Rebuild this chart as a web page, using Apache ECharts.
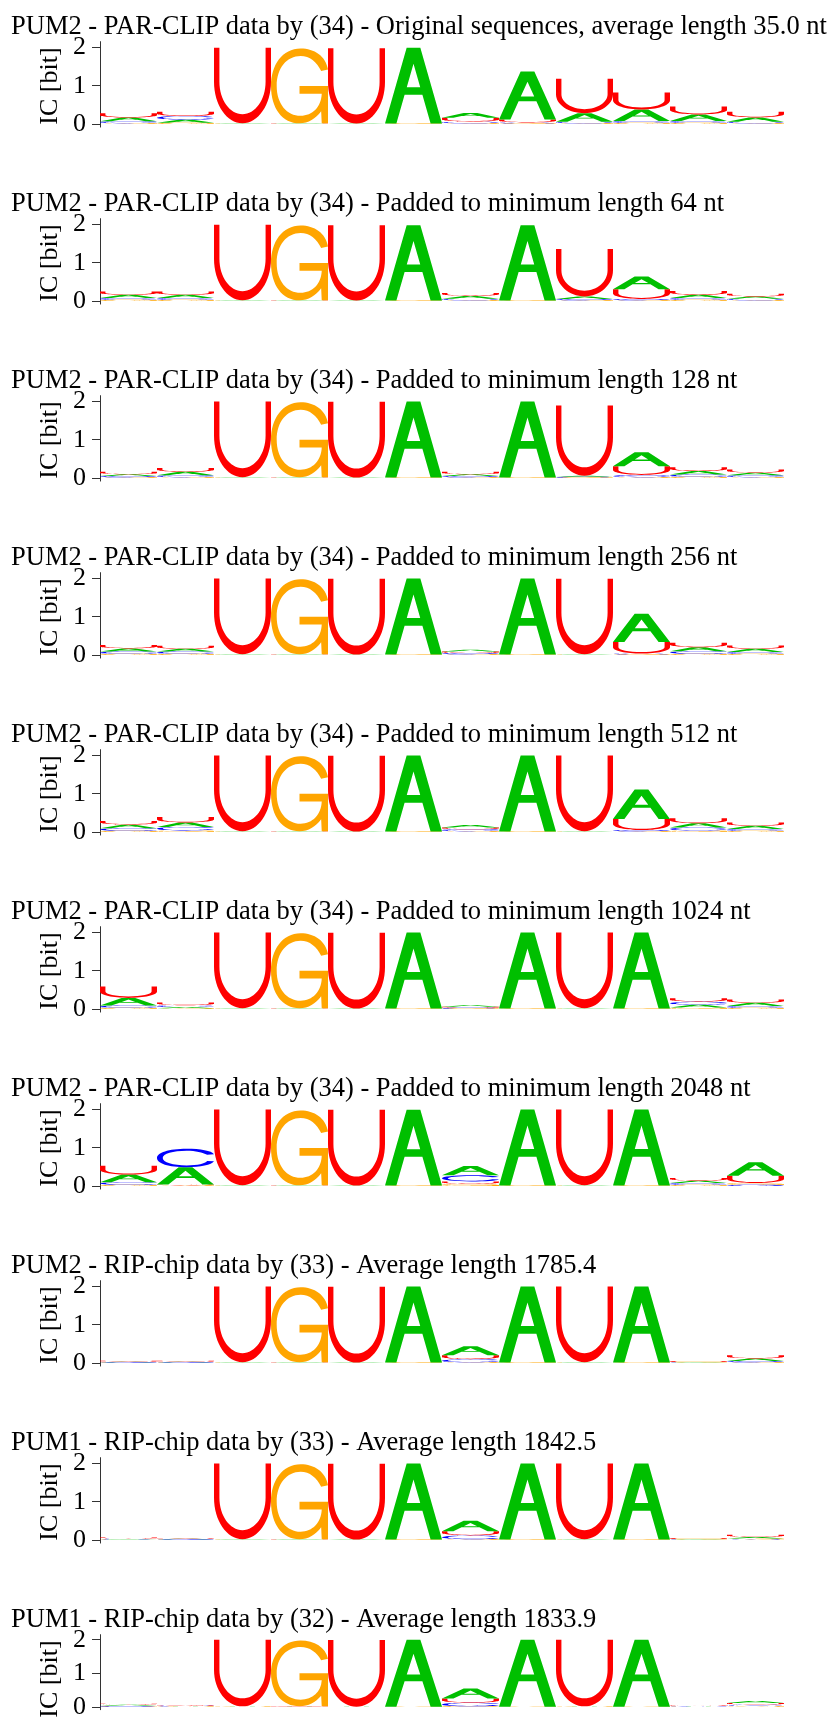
<!DOCTYPE html>
<html><head><meta charset="utf-8">
<script src="https://cdn.jsdelivr.net/npm/echarts@6/dist/echarts.min.js"></script>
<style>html,body{margin:0;padding:0;background:#fff}#c{width:832px;height:1720px}</style>
</head><body><div id="c"></div>
<script>
// letter order in every entry: [A, C, G, U]
const letters = ['A', 'C', 'G', 'U'];
const yTicks = [0, 1, 2];
const yLabel = 'IC [bit]';
const titles = [
  'PUM2 - PAR-CLIP data by (34) - Original sequences, average length 35.0 nt',
  'PUM2 - PAR-CLIP data by (34) - Padded to minimum length 64 nt',
  'PUM2 - PAR-CLIP data by (34) - Padded to minimum length 128 nt',
  'PUM2 - PAR-CLIP data by (34) - Padded to minimum length 256 nt',
  'PUM2 - PAR-CLIP data by (34) - Padded to minimum length 512 nt',
  'PUM2 - PAR-CLIP data by (34) - Padded to minimum length 1024 nt',
  'PUM2 - PAR-CLIP data by (34) - Padded to minimum length 2048 nt',
  'PUM2 - RIP-chip data by (33) - Average length 1785.4',
  'PUM1 - RIP-chip data by (33) - Average length 1842.5',
  'PUM1 - RIP-chip data by (32) - Average length 1833.9'
];
const p1 = [[.10,.05,.02,.11],[.08,.10,.03,.11],[.01,0,.01,1.97],[.01,0,1.95,.01],[.01,0,0,1.97],[1.98,0,.01,0],
            [.13,.04,.02,.10],[1.25,.03,.01,.08],[.22,.04,.02,.90],[.30,.05,.03,.44],[.17,.05,.03,.21],[.11,.04,.02,.15]];
const p2 = [[.08,.05,.03,.09],[.08,.05,.03,.09],[.01,0,.01,1.97],[.01,0,1.95,.01],[.01,0,0,1.97],[1.97,0,.01,0],
            [.07,.04,.02,.08],[1.97,0,.01,0],[.07,.03,.02,1.24],[.33,.03,.02,.26],[.08,.05,.03,.10],[.06,.04,.02,.07]];
const p3 = [[.05,.03,.02,.06],[.09,.05,.02,.10],[.01,0,.01,1.98],[.01,0,1.96,.01],[.01,0,0,1.98],[1.99,0,.01,0],
            [.05,.03,.02,.06],[1.99,0,.01,0],[.03,.02,.01,1.83],[.36,.06,.02,.23],[.09,.06,.03,.10],[.07,.05,.02,.08]];
const p4 = [[.08,.06,.03,.09],[.07,.06,.03,.08],[.01,0,.01,1.98],[.01,0,1.96,.01],[.01,0,0,1.98],[1.99,0,.01,0],
            [.05,.03,.02,.04],[1.99,0,.01,0],[.01,0,.01,1.97],[.74,.03,.01,.30],[.10,.07,.03,.12],[.08,.05,.03,.09]];
const p5 = [[.09,.07,.03,.10],[.12,.09,.04,.14],[.01,0,.01,1.98],[.01,0,1.96,.01],[.01,0,0,1.98],[1.99,0,.01,0],
            [.06,.05,.02,.05],[1.99,0,.01,0],[.01,0,.01,1.98],[.77,.03,.02,.29],[.11,.08,.04,.13],[.08,.05,.03,.09]];
const p6 = [[.20,.06,.03,.30],[.03,.05,.02,.07],[.01,0,.01,1.98],[.01,0,1.96,.01],[.01,0,0,1.98],[1.99,0,.01,0],
            [.04,.02,.01,.03],[1.99,0,.01,0],[.01,0,.01,1.98],[1.99,0,.01,0],[.07,.08,.04,.09],[.08,.05,.03,.09]];
const p7 = [[.20,.07,.03,.23],[.45,.48,.02,.02],[.01,0,.01,1.98],[.01,0,1.95,.01],[.01,0,0,1.98],[1.98,0,.01,0],
            [.24,.16,.05,.07],[1.99,0,.01,0],[.01,0,.01,1.98],[1.99,0,.01,0],[.06,.05,.03,.07],[.35,.03,.05,.19]];
const p8 = [[.015,.01,.01,.025],[.015,.01,.01,.025],[.01,0,.01,1.98],[.01,0,1.96,.01],[.01,0,0,1.98],[1.99,0,.01,0],
            [.24,.08,.02,.10],[1.99,0,.01,0],[.01,0,.01,1.98],[1.99,0,.01,0],[.01,.01,.01,.02],[.07,.03,.02,.08]];
const p9 = [[.01,.015,.01,.03],[.015,.01,.01,.02],[.01,0,.01,1.98],[.01,0,1.96,.01],[.01,0,0,1.98],[1.99,0,.01,0],
            [.27,.10,.02,.11],[1.99,0,.01,0],[.01,0,.01,1.98],[1.99,0,.01,0],[.01,.01,.01,.02],[.04,.02,.02,.06]];
const p10 = [[.03,.02,.02,.03],[.01,.015,.01,.025],[.01,0,.01,1.98],[.01,0,1.96,.01],[.01,0,0,1.98],[1.99,0,.01,0],
            [.30,.11,.02,.12],[1.99,0,.01,0],[.01,0,.01,1.98],[1.99,0,.01,0],[.01,.01,.01,.02],[.06,.04,.03,.05]];
const panels = [p1, p2, p3, p4, p5, p6, p7, p8, p9, p10];

// glyph outlines in a 100x100 box (y down)
const PATHS = {
  A: 'M0 100 L38 0 L62 0 L100 100 L80 100 L65.6 62 L34.4 62 L20 100 Z M38.2 52 L61.8 52 L50 21.1 Z',
  C: 'M100 30 C96 10 76 0 52 0 C20 0 0 22 0 50 C0 80 20 100 52 100 C76 100 96 88 100 68 L88 66 C84 80 72 90 52 90 C28 90 10 74 10 50 C10 26 28 10 52 10 C68 10 80 19 88 32 Z',
  G: 'M100 28 C96 10 76 0 52 0 C20 0 0 22 0 50 C0 80 20 100 50 100 C66 100 78 94 88 84 L89 100 L100 100 L100 50 L50 50 L50 60.5 L89 60.5 C88 78 73 90 52 90 C28 90 10 74 10 50 C10 26 28 10 52 10 C68 10 80 18 88 30 Z',
  U: 'M0 0 L9.5 0 L9.5 45 C9.5 69 27.7 88 50 88 C72.3 88 90.5 69 90.5 45 L90.5 0 L100 0 L100 45 C100 75.4 77.6 100 50 100 C22.4 100 0 75.4 0 45 Z'
};
const COLORS = { A: '#00bf00', C: '#0000ff', G: '#ffa500', U: '#ff0000' };

const PITCH = 177, ZERO0 = 124, PXBIT = 38.3;
const YMIN = -0.08, YMAX = 2.15;
const FONT = '"Liberation Serif", "Times New Roman", serif';

const grids = [], xAxes = [], yAxes = [], series = [], graphics = [];
panels.forEach((pan, k) => {
  const zero = ZERO0 + PITCH * k;
  grids.push({ left: 100, width: 684, top: zero - YMAX * PXBIT, height: (YMAX - YMIN) * PXBIT });
  xAxes.push({ gridIndex: k, type: 'value', min: 0, max: 12, show: false });
  yAxes.push({
    gridIndex: k, type: 'value', min: YMIN, max: YMAX,
    axisLine: { show: true, onZero: false, lineStyle: { color: '#333', width: 1 } },
    axisTick: { show: true, length: 8, customValues: yTicks, lineStyle: { color: '#333' } },
    axisLabel: { show: true, customValues: yTicks, margin: 14, fontSize: 26, fontFamily: FONT, color: '#000' },
    splitLine: { show: false }
  });
  const data = [];
  pan.forEach((col, i) => {
    const items = letters.map((l, j) => ({ l, h: col[j] })).filter(d => d.h > 0).sort((a, b) => a.h - b.h);
    let base = 0;
    items.forEach(d => { data.push([i, base, base + d.h, letters.indexOf(d.l)]); base += d.h; });
  });
  series.push({
    type: 'custom', xAxisIndex: k, yAxisIndex: k, clip: false, silent: true,
    encode: { x: 0, y: [1, 2] },
    data,
    renderItem(params, api) {
      const x0 = api.value(0), y0 = api.value(1), y1 = api.value(2), li = api.value(3);
      const a = api.coord([x0, y0]), b = api.coord([x0 + 1, y1]);
      const L = letters[li];
      return {
        type: 'path',
        shape: { pathData: PATHS[L], x: a[0], y: b[1], width: b[0] - a[0], height: Math.max(a[1] - b[1], 0.01), layout: 'cover' },
        style: { fill: COLORS[L] }
      };
    }
  });
  graphics.push({ type: 'text', x: 11, y: zero - 97, style: { text: titles[k], font: '26.5px ' + FONT, fill: '#000', textAlign: 'left', textVerticalAlign: 'middle' } });
  graphics.push({ type: 'text', x: 50, y: zero - 38, rotation: Math.PI / 2, style: { text: yLabel, font: '26px ' + FONT, fill: '#000', textAlign: 'center', textVerticalAlign: 'middle' } });
});

const chart = echarts.init(document.getElementById('c'));
chart.setOption({ animation: false, grid: grids, xAxis: xAxes, yAxis: yAxes, series, graphic: graphics });
</script></body></html>
